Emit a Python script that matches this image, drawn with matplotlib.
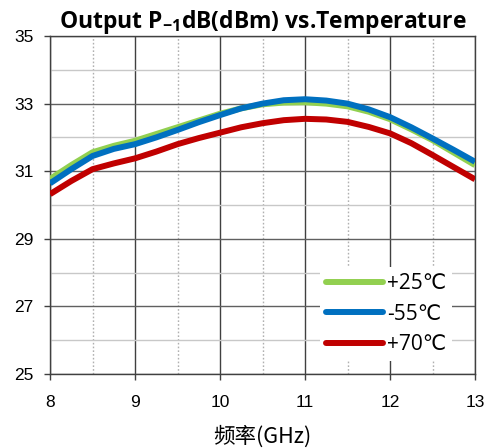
import numpy as np
import matplotlib.pyplot as plt

plt.rcParams['mathtext.fontset'] = 'custom'
plt.rcParams['mathtext.bf'] = 'Open Sans:bold'
plt.rcParams['mathtext.rm'] = 'Open Sans'

# frequency points (GHz) and P-1dB readings (dBm) per temperature
freq = [8.0, 8.25, 8.5, 8.75, 9.0, 9.25, 9.5, 9.75, 10.0, 10.25, 10.5,
        10.75, 11.0, 11.25, 11.5, 11.75, 12.0, 12.25, 12.5, 12.75, 13.0]
p25 = [30.77, 31.18, 31.56, 31.75, 31.90, 32.10, 32.30, 32.50, 32.70, 32.86, 32.98,
       33.03, 33.04, 33.00, 32.92, 32.76, 32.54, 32.24, 31.92, 31.55, 31.18]
m55 = [30.64, 31.06, 31.45, 31.66, 31.80, 32.00, 32.22, 32.45, 32.66, 32.86, 33.00,
       33.10, 33.13, 33.09, 33.00, 32.83, 32.60, 32.30, 31.97, 31.63, 31.28]
p70 = [30.32, 30.71, 31.06, 31.23, 31.38, 31.58, 31.80, 31.98, 32.14, 32.30, 32.42,
       32.51, 32.55, 32.53, 32.46, 32.31, 32.12, 31.83, 31.48, 31.12, 30.76]

labels = ['+25℃', '-55℃', '+70℃']
colors = ['#92d050', '#0070c0', '#c00000']

fig = plt.figure(figsize=(4.85, 4.48), dpi=100)
ax = fig.add_axes([0.1031, 0.1652, 0.8763, 0.7544])

for ys, lab, c in zip([p25, m55, p70], labels, colors):
    ax.plot(freq, ys, color=c, lw=4.3, label=lab, solid_capstyle='butt',
            solid_joinstyle='round', zorder=3)

ax.set_xlim(8, 13)
ax.set_ylim(25, 35)
ax.set_xticks(range(8, 14))
ax.set_yticks(range(25, 36, 2))
ax.set_xticks(np.arange(8.5, 13, 1.0), minor=True)
ax.set_yticks(range(26, 35, 2), minor=True)

ax.grid(True, which='major', axis='x', color='#404040', lw=1.0, zorder=1)
ax.grid(True, which='major', axis='y', color='#606060', lw=1.0, zorder=1)
ax.grid(True, which='minor', axis='x', color='#b0b0b0', lw=1.0, ls=(0, (1.2, 1.5)), zorder=1)
ax.grid(True, which='minor', axis='y', color='#c8c8c8', lw=1.0, zorder=1)
ax.set_axisbelow(True)

ax.tick_params(which='major', direction='out', length=4, width=1, color='#404040',
               labelsize=12.5)
ax.tick_params(axis='x', which='major', pad=11)
ax.tick_params(axis='y', which='major', pad=8)
ax.tick_params(which='minor', length=0)
for lbl in ax.get_xticklabels() + ax.get_yticklabels():
    lbl.set_fontfamily('Liberation Sans')
for s in ax.spines.values():
    s.set_color('#404040')
    s.set_linewidth(1.0)

ax.set_title(r'Output P$_{\mathbf{-1}}$dB(dBm) vs.Temperature',
             fontsize=16.5, fontweight='bold', family='Open Sans', pad=4)
ax.set_xlabel('频率(GHz)', family=['Noto Sans CJK SC', 'DejaVu Sans'], fontsize=15.5, labelpad=11)

leg = ax.legend(loc='lower right', bbox_to_anchor=(0.971, 0.007), frameon=True,
                fancybox=False, edgecolor='none', framealpha=1.0, handlelength=2.7,
                handletextpad=0.2, labelspacing=0.45, borderpad=0.3,
                prop={'family': ['Open Sans', 'DejaVu Sans'], 'size': 15})
for h in leg.get_lines():
    h.set_solid_capstyle('round')
    h.set_linewidth(4.3)

fig.savefig('out.png', dpi=100)
